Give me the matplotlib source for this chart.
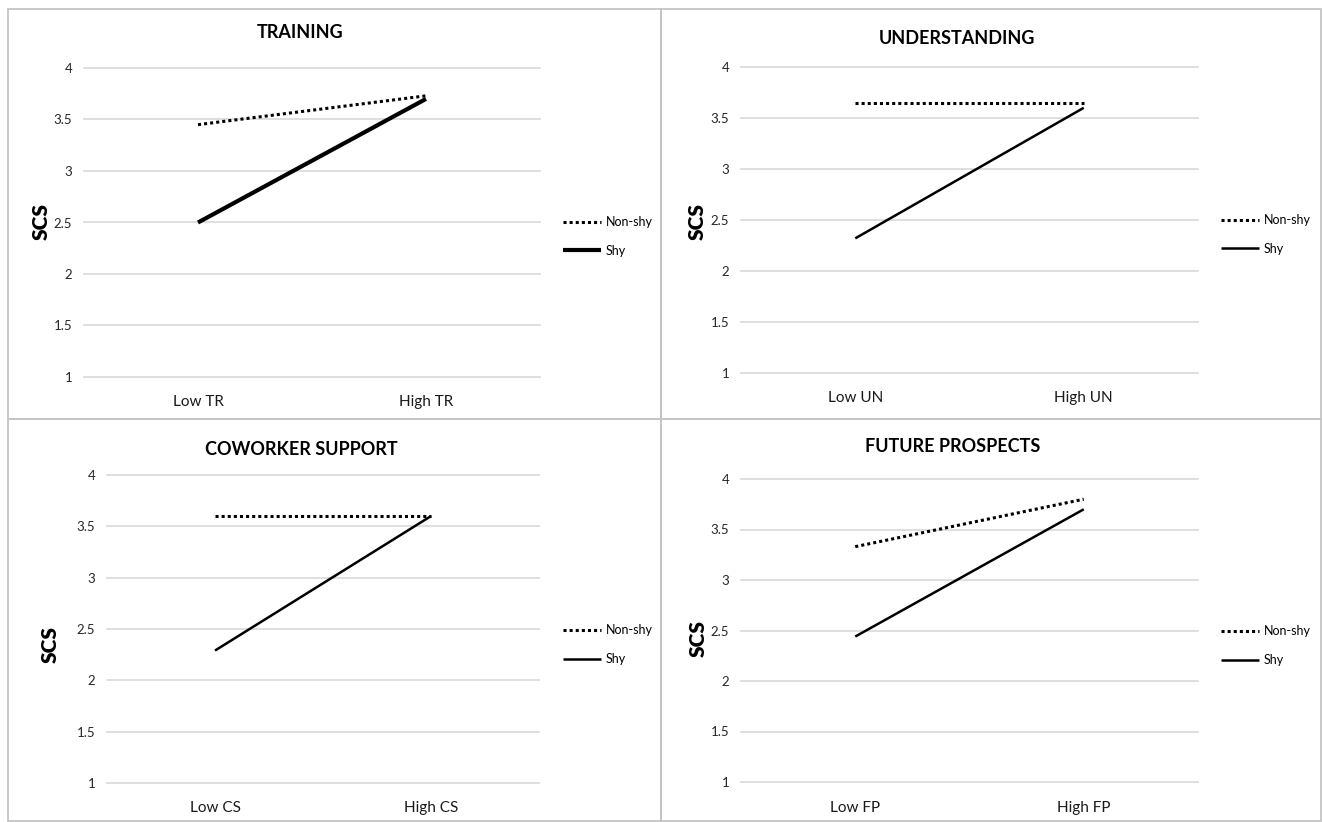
import matplotlib
matplotlib.use("Agg")
import matplotlib.pyplot as plt
from matplotlib.patches import Rectangle

plt.rcParams['font.family'] = ['Lato', 'DejaVu Sans']

titles = ["TRAINING", "UNDERSTANDING", "COWORKER SUPPORT", "FUTURE PROSPECTS"]
xlabels = [["Low TR", "High TR"], ["Low UN", "High UN"],
           ["Low CS", "High CS"], ["Low FP", "High FP"]]
non_shy = [[3.45, 3.73], [3.65, 3.65], [3.60, 3.60], [3.33, 3.80]]
shy = [[2.50, 3.70], [2.32, 3.60], [2.29, 3.60], [2.44, 3.70]]
yticks = [1, 1.5, 2, 2.5, 3, 3.5, 4]
ytick_labels = ["1", "1.5", "2", "2.5", "3", "3.5", "4"]
series_names = ["Non-shy", "Shy"]
ylabel = "SCS"

W, H = 1322, 822
fig = plt.figure(figsize=(W / 100, H / 100), dpi=100)

# pixel layout
axes_px = [(84, 540, 68, 377), (741, 1198, 67, 373), (107, 539, 475, 783), (741, 1198, 479, 782)]
frames_px = [(8, 661, 9, 419), (661, 1321, 9, 419), (8, 661, 419, 821), (661, 1321, 419, 821)]
title_px = [(300, 33), (957, 38), (301, 449), (953, 447)]
ylab_px = [(41, 222), (697, 222), (50, 644), (698, 638)]
legend_px = [(563, 216), (1221, 214), (563, 624), (1221, 625)]
xlab_pad = [13, 13, 13, 13.5]
shy_lw = [3.0, 1.8, 1.8, 1.8]

def fx(px):
    return px / W

def fy(py):
    return 1 - py / H

for (x0, x1, y0, y1) in frames_px:
    fig.patches.append(Rectangle((fx(x0), fy(y1)), fx(x1) - fx(x0), fy(y0) - fy(y1),
                                 transform=fig.transFigure, fill=False,
                                 edgecolor='#c4c4c4', linewidth=1.3))

for i in range(4):
    x0, x1, yt, yb = axes_px[i]
    ax = fig.add_axes([fx(x0), fy(yb), fx(x1) - fx(x0), fy(yt) - fy(yb)])
    ax.set_xlim(-0.5, 1.5)
    ax.set_ylim(1, 4)
    for s in ax.spines.values():
        s.set_visible(False)
    for yv in yticks:
        ax.axhline(yv, color='#d9d9d9', linewidth=1.2, zorder=0, clip_on=False)
    ax.set_yticks(yticks)
    ax.set_yticklabels(ytick_labels, fontsize=9.5, color='#262626')
    ax.set_xticks([0, 1])
    ax.set_xticklabels(xlabels[i], fontsize=11, color='#1a1a1a')
    ax.tick_params(axis='both', length=0)
    ax.tick_params(axis='y', pad=8.5)
    ax.tick_params(axis='x', pad=xlab_pad[i])
    l1, = ax.plot([0, 1], non_shy[i], color='black', linewidth=2.2,
                  linestyle=(0, (1, 1)), dash_capstyle='butt', clip_on=False,
                  label=series_names[0])
    l2, = ax.plot([0, 1], shy[i], color='black', linewidth=shy_lw[i],
                  solid_capstyle='butt', clip_on=False, label=series_names[1])
    fig.text(fx(title_px[i][0]), fy(title_px[i][1]), titles[i], ha='center', va='center',
             fontsize=13, fontweight='bold', color='black')
    fig.text(fx(ylab_px[i][0]), fy(ylab_px[i][1]), ylabel, ha='center', va='center',
             rotation=90, fontsize=15, fontweight='heavy', color='black')
    fig.legend(handles=[l1, l2], labels=series_names, loc='upper left',
               bbox_to_anchor=(fx(legend_px[i][0]), fy(legend_px[i][1])),
               bbox_transform=fig.transFigure, frameon=False, fontsize=9,
               handlelength=3.0, handletextpad=0.4, labelspacing=1.35, borderpad=0,
               borderaxespad=0)

fig.savefig("out.png", dpi=100, facecolor='white')
